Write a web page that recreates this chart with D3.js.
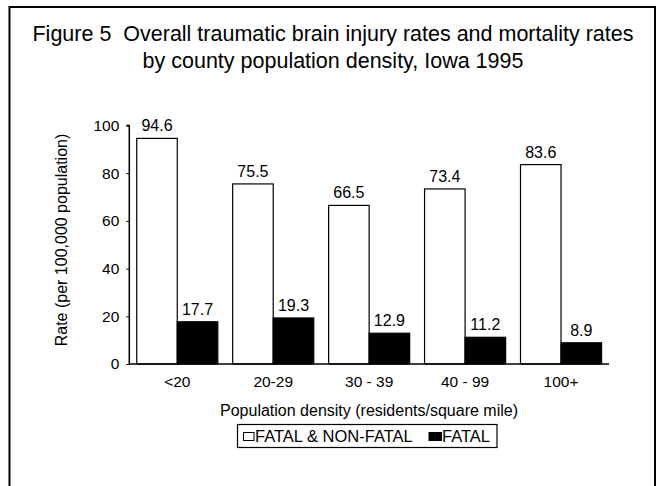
<!DOCTYPE html>
<html>
<head>
<meta charset="utf-8">
<script src="https://cdn.jsdelivr.net/npm/d3@7"></script>
<style>
  body { margin: 0; background: #fff; }
  svg { display: block; font-family: "Liberation Sans", Arial, sans-serif; }
</style>
</head>
<body>
<div id="chart"></div>
<script>
// data
var categories = ["<20", "20-29", "30 - 39", "40 - 99", "100+"];
var seriesNames = ["FATAL & NON-FATAL", "FATAL"];
var allRates = [94.6, 75.5, 66.5, 73.4, 83.6];
var fatalRates = [17.7, 19.3, 12.9, 11.2, 8.9];
var yTicks = [0, 20, 40, 60, 80, 100];

var width = 659, height = 486;
var plotLeft = 129.3, plotRight = 609, plotTop = 125.5, plotBottom = 364;

var svg = d3.select("#chart").append("svg")
  .attr("width", width)
  .attr("height", height);

// outer frame (no bottom edge)
svg.append("path")
  .attr("d", "M9.5,486 V7 H655 V486")
  .attr("fill", "none")
  .attr("stroke", "#000")
  .attr("stroke-width", 2);

// title
svg.append("text")
  .attr("x", 333).attr("y", 41)
  .attr("text-anchor", "middle")
  .style("font-size", "21.5px")
  .style("white-space", "pre")
  .text("Figure 5  Overall traumatic brain injury rates and mortality rates");
svg.append("text")
  .attr("x", 333).attr("y", 68)
  .attr("text-anchor", "middle")
  .style("font-size", "21.5px")
  .text("by county population density, Iowa 1995");

var rows = categories.map(function (c, i) {
  return {cat: c, values: [allRates[i], fatalRates[i]]};
});

var x0 = d3.scaleBand()
  .domain(categories)
  .range([plotLeft, plotRight])
  .paddingInner(0.155)
  .paddingOuter(0.0775);

var x1 = d3.scaleBand()
  .domain(seriesNames)
  .range([0, x0.bandwidth()]);

var y = d3.scaleLinear()
  .domain([0, 100])
  .range([plotBottom, plotTop]);

var groups = svg.selectAll("g.grp")
  .data(rows)
  .enter().append("g")
  .attr("class", "grp")
  .attr("transform", function (d) { return "translate(" + x0(d.cat) + ",0)"; });

groups.selectAll("rect")
  .data(function (d) { return d.values.map(function (v, i) { return {s: seriesNames[i], v: v, i: i}; }); })
  .enter().append("rect")
  .attr("x", function (d) { return x1(d.s); })
  .attr("y", function (d) { return y(d.v); })
  .attr("width", x1.bandwidth())
  .attr("height", function (d) { return plotBottom - y(d.v); })
  .attr("fill", function (d) { return d.i === 0 ? "#fff" : "#000"; })
  .attr("stroke", "#000")
  .attr("stroke-width", 1.2);

groups.selectAll("text.val")
  .data(function (d) { return d.values.map(function (v, i) { return {s: seriesNames[i], v: v}; }); })
  .enter().append("text")
  .attr("class", "val")
  .attr("x", function (d) { return x1(d.s) + x1.bandwidth() / 2; })
  .attr("y", function (d) { return y(d.v) - 7; })
  .attr("text-anchor", "middle")
  .style("font-size", "16px")
  .text(function (d) { return d.v.toFixed(1); });

// y axis
var yAxis = d3.axisLeft(y).tickValues(yTicks).tickSize(3).tickPadding(7);
var gy = svg.append("g")
  .attr("transform", "translate(" + plotLeft + ",0)")
  .call(yAxis);
gy.select(".domain").attr("d", "M-3," + plotTop + "H0V" + plotBottom).attr("stroke-width", 1.5);
gy.selectAll("text").style("font-size", "15.5px").style("font-family", "Liberation Sans, Arial, sans-serif").attr("fill", "#000");

// x axis
var xAxis = d3.axisBottom(x0).tickSize(0).tickPadding(12);
var gx = svg.append("g")
  .attr("transform", "translate(0," + plotBottom + ")")
  .call(xAxis);
gx.select(".domain").attr("d", "M" + plotLeft + ",0H" + plotRight).attr("stroke-width", 1.5);
gx.selectAll("text").style("font-size", "15.5px").style("font-family", "Liberation Sans, Arial, sans-serif").attr("fill", "#000");

// axis titles
svg.append("text")
  .attr("transform", "translate(67,240) rotate(-90)")
  .attr("text-anchor", "middle")
  .style("font-size", "16px")
  .text("Rate (per 100,000 population)");

svg.append("text")
  .attr("x", 369).attr("y", 416)
  .attr("text-anchor", "middle")
  .style("font-size", "16px")
  .text("Population density (residents/square mile)");

// legend
var leg = svg.append("g");
leg.append("rect")
  .attr("x", 237.5).attr("y", 424.5)
  .attr("width", 259.5).attr("height", 23)
  .attr("fill", "#fff").attr("stroke", "#000").attr("stroke-width", 1.2);
leg.append("rect")
  .attr("x", 243.5).attr("y", 432.5).attr("width", 10.5).attr("height", 8)
  .attr("fill", "#fff").attr("stroke", "#000");
leg.append("text")
  .attr("x", 255).attr("y", 442)
  .style("font-size", "16.5px")
  .text(seriesNames[0]);
leg.append("rect")
  .attr("x", 429).attr("y", 432.5).attr("width", 12.5).attr("height", 8)
  .attr("fill", "#000").attr("stroke", "#000");
leg.append("text")
  .attr("x", 442).attr("y", 442)
  .style("font-size", "16.5px")
  .text(seriesNames[1]);
</script>
</body>
</html>
